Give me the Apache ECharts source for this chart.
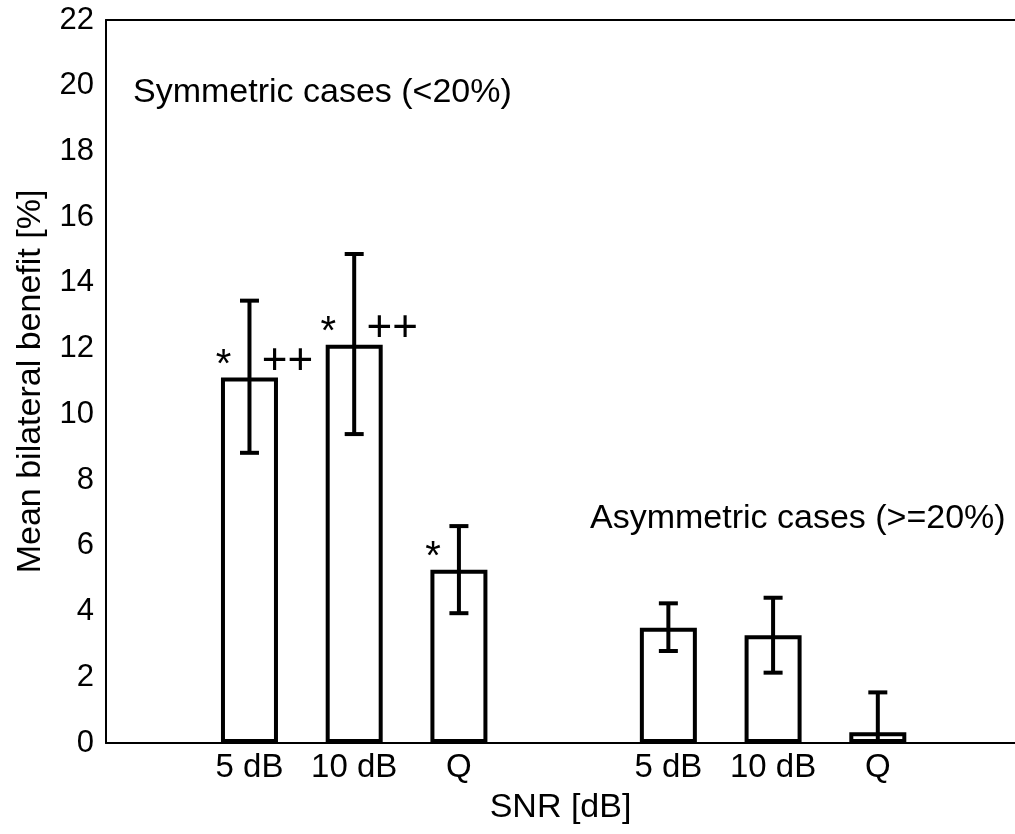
<!DOCTYPE html>
<html><head><meta charset="utf-8">
<script src="https://cdn.jsdelivr.net/npm/echarts@6/dist/echarts.min.js"></script>
<style>html,body{margin:0;padding:0;background:#fff}#c{width:1015px;height:834px}</style>
</head><body><div id="c"></div>
<script>
// ---- data ----
const categories = ['5 dB', '10 dB', 'Q', '5 dB', '10 dB', 'Q'];
const positions = [1, 2, 3, 5, 6, 7];
const means = [11.12, 12.12, 5.27, 3.51, 3.28, 0.33];
const errHigh = [13.46, 14.88, 6.60, 4.25, 4.42, 1.54];
const errLow = [8.83, 9.40, 3.95, 2.80, 2.14, -0.88];
const starMarks = ['*', '*', '*', '', '', ''];
const plusMarks = ['++', '++', '', '', '', ''];
const groupLabels = ['Symmetric cases (<20%)', 'Asymmetric cases (>=20%)'];
const yName = 'Mean bilateral benefit [%]';
const xName = 'SNR [dB]';

const FONT = '"Liberation Sans", Arial, Helvetica, sans-serif';
const chart = echarts.init(document.getElementById('c'), null, {renderer: 'canvas'});

const option = {
  animation: false,
  backgroundColor: '#fff',
  textStyle: {fontFamily: FONT},
  grid: {left: 106, right: 0, top: 20, bottom: 91, containLabel: false, outerBoundsMode: 'none'},
  xAxis: [{
    type: 'value', min: -0.37, max: 8.31,
    axisLine: {show: true, onZero: false, lineStyle: {color: '#000', width: 2}},
    axisTick: {show: false},
    splitLine: {show: false},
    axisLabel: {
      customValues: positions,
      formatter: v => categories[positions.indexOf(v)],
      color: '#000', fontSize: 33, fontFamily: FONT, margin: 8
    },
    name: xName, nameLocation: 'middle', nameGap: 48,
    nameTextStyle: {color: '#000', fontSize: 34, fontFamily: FONT}
  }, {
    type: 'value', position: 'top', min: -0.37, max: 8.31,
    axisLine: {show: true, onZero: false, lineStyle: {color: '#000', width: 2}},
    axisTick: {show: false}, axisLabel: {show: false}, splitLine: {show: false}
  }],
  yAxis: {
    type: 'value', min: 0, max: 22, interval: 2,
    axisLine: {show: true, onZero: false, lineStyle: {color: '#000', width: 2}},
    axisTick: {show: false},
    splitLine: {show: false},
    axisLabel: {color: '#000', fontSize: 31, fontFamily: FONT, margin: 12},
    name: yName, nameLocation: 'middle', nameGap: 58, nameRotate: 90,
    nameTextStyle: {color: '#000', fontSize: 34, fontFamily: FONT}
  },
  graphic: [
    {type: 'text', left: 133, top: 76, style: {text: groupLabels[0], font: '34px ' + FONT, fill: '#000'}},
    {type: 'text', left: 590, top: 502, style: {text: groupLabels[1], font: '34px ' + FONT, fill: '#000'}}
  ],
  series: [{
    type: 'bar',
    z: 2,
    data: positions.map((p, i) => [p, means[i]]),
    barWidth: 57,
    itemStyle: {color: '#fff', borderColor: '#000', borderWidth: 4},
    silent: true
  }, {
    type: 'custom',
    z: 5,
    clip: true,
    data: positions.map((p, i) => [p, errLow[i], errHigh[i]]),
    renderItem: function (params, api) {
      const lo = api.coord([api.value(0), api.value(1)]);
      const hi = api.coord([api.value(0), api.value(2)]);
      const cap = 9.5;
      const st = {stroke: '#000', lineWidth: 4};
      return {type: 'group', children: [
        {type: 'line', shape: {x1: lo[0], y1: lo[1], x2: hi[0], y2: hi[1]}, style: st},
        {type: 'line', shape: {x1: hi[0] - cap, y1: hi[1], x2: hi[0] + cap, y2: hi[1]}, style: st},
        {type: 'line', shape: {x1: lo[0] - cap, y1: lo[1], x2: lo[0] + cap, y2: lo[1]}, style: st}
      ]};
    }
  }, {
    type: 'custom',
    z: 6,
    data: positions.map((p, i) => [p, means[i], i]),
    renderItem: function (params, api) {
      const i = api.value(2);
      const top = api.coord([api.value(0), api.value(1)]);
      const children = [];
      if (starMarks[i]) children.push({type: 'text', style: {
        text: starMarks[i], x: top[0] - 26, y: top[1] - 12,
        align: 'center', verticalAlign: 'middle', font: '40px ' + FONT, fill: '#000'}});
      if (plusMarks[i]) children.push({type: 'text', style: {
        text: plusMarks[i], x: top[0] + 38, y: top[1] - 16,
        align: 'center', verticalAlign: 'middle', font: '44px ' + FONT, fill: '#000'}});
      return {type: 'group', children: children};
    }
  }]
};
chart.setOption(option);
</script></body></html>
